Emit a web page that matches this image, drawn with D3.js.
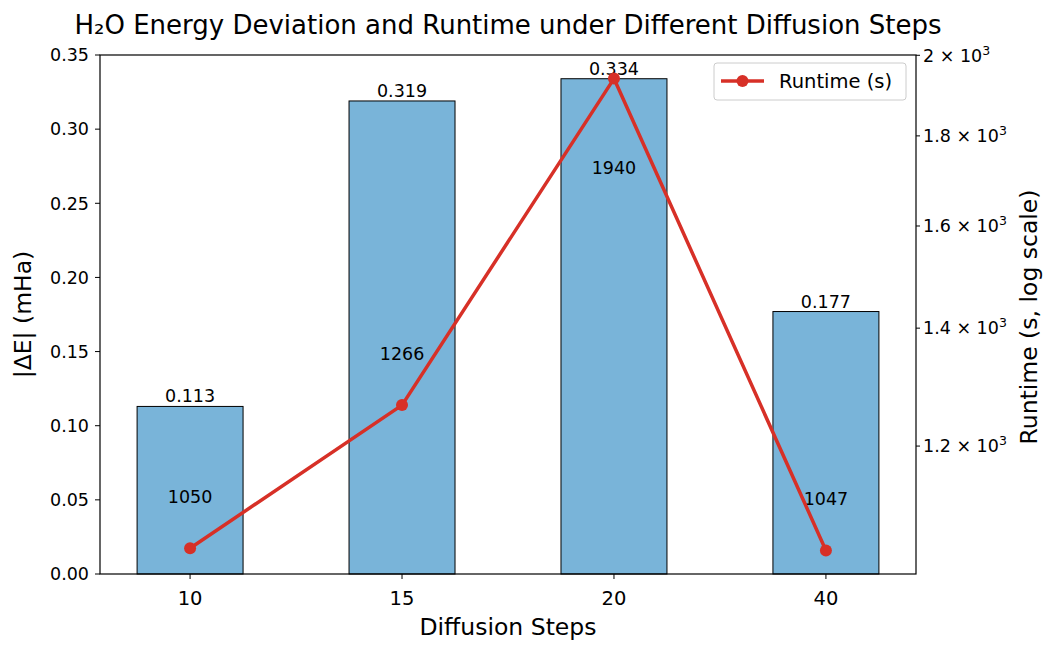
<!DOCTYPE html>
<html><head><meta charset="utf-8">
<script src="https://cdn.jsdelivr.net/npm/d3@7"></script>
<style>
body{margin:0;background:#fff;}
svg{display:block;font-family:"DejaVu Sans",sans-serif;}
</style></head>
<body><svg id="c" width="1056" height="656"></svg>
<script>
const categories = ["10", "15", "20", "40"];
const deltaE = [0.113, 0.319, 0.334, 0.177];
const runtime = [1050, 1266, 1940, 1047];
const deltaLabels = ["0.113", "0.319", "0.334", "0.177"];
const runtimeLabels = ["1050", "1266", "1940", "1047"];
const leftTicks = [0, 0.05, 0.10, 0.15, 0.20, 0.25, 0.30, 0.35];
const rightTicks = [1200, 1400, 1600, 1800, 2000];
const rightTickMantissa = ["1.2", "1.4", "1.6", "1.8", "2"];

const svg = d3.select("#c");
const L = 100, R = 916, T = 55, B = 574;
const barColor = "#79b4d9", lineColor = "#d73027";

const x = d3.scaleLinear().domain([-0.425, categories.length - 1 + 0.425]).range([L, R]);
const yL = d3.scaleLinear().domain([0, 0.35]).range([B, T]);
const lmin = Math.log10(d3.min(runtime)), lmax = Math.log10(d3.max(runtime));
const pad = 0.05 * (lmax - lmin);
const yR = d3.scaleLog().domain([Math.pow(10, lmin - pad), Math.pow(10, lmax + pad)]).range([B, T]);

// bars
svg.selectAll("rect.bar").data(deltaE).join("rect")
  .attr("x", (d, i) => x(i - 0.25)).attr("width", x(0.5) - x(0))
  .attr("y", d => yL(d)).attr("height", d => yL(0) - yL(d))
  .attr("fill", barColor).attr("stroke", "#000").attr("stroke-width", 1);

// bar labels
svg.selectAll("text.bl").data(deltaE).join("text")
  .attr("x", (d, i) => x(i)).attr("y", d => yL(d) - 4)
  .attr("text-anchor", "middle").attr("font-size", 17.5).attr("fill", "#000")
  .text((d, i) => deltaLabels[i]);

// runtime labels
svg.selectAll("text.rl").data(runtime).join("text")
  .attr("x", (d, i) => x(i))
  .attr("y", d => { const v = d * 1.07 > yR.domain()[1] ? d * 0.89 : d * 1.07; return yR(v) + 6.5; })
  .attr("text-anchor", "middle").attr("font-size", 17.5).attr("fill", "#000")
  .text((d, i) => runtimeLabels[i]);

// line
svg.append("path").datum(runtime)
  .attr("d", d3.line().x((d, i) => x(i)).y(d => yR(d)))
  .attr("fill", "none").attr("stroke", lineColor).attr("stroke-width", 3.5).attr("stroke-linejoin", "round");
svg.selectAll("circle.pt").data(runtime).join("circle")
  .attr("cx", (d, i) => x(i)).attr("cy", d => yR(d)).attr("r", 6).attr("fill", lineColor);

// frame
svg.append("rect").attr("x", L).attr("y", T).attr("width", R - L).attr("height", B - T)
  .attr("fill", "none").attr("stroke", "#000").attr("stroke-width", 1.2);

// left axis
const gl = svg.append("g");
leftTicks.forEach(t => {
  gl.append("line").attr("x1", L - 5).attr("x2", L).attr("y1", yL(t)).attr("y2", yL(t)).attr("stroke", "#000");
  gl.append("text").attr("x", L - 11).attr("y", yL(t) + 6.3).attr("text-anchor", "end")
    .attr("font-size", 17.5).text(d3.format(".2f")(t));
});
// x axis
categories.forEach((c, i) => {
  svg.append("line").attr("x1", x(i)).attr("x2", x(i)).attr("y1", B).attr("y2", B + 5).attr("stroke", "#000");
  svg.append("text").attr("x", x(i)).attr("y", 605).attr("text-anchor", "middle")
    .attr("font-size", 19.5).text(c);
});
// right axis
rightTicks.forEach((t, i) => {
  svg.append("line").attr("x1", R).attr("x2", R + 4).attr("y1", yR(t)).attr("y2", yR(t)).attr("stroke", "#000");
  const tx = svg.append("text").attr("x", R + 7).attr("y", yR(t) + 6.3).attr("font-size", 17.5);
  tx.append("tspan").text(rightTickMantissa[i] + " \u00d7 10");
  tx.append("tspan").attr("font-size", 12.5).attr("dy", -7).text("3");
});

// axis titles
svg.append("text").attr("transform", `translate(31,${(T + B) / 2}) rotate(-90)`)
  .attr("text-anchor", "middle").attr("font-size", 23.5).text("|\u0394E| (mHa)");
svg.append("text").attr("transform", `translate(1037,317) rotate(-90)`)
  .attr("text-anchor", "middle").attr("font-size", 23.5).text("Runtime (s, log scale)");
svg.append("text").attr("x", (L + R) / 2).attr("y", 635).attr("text-anchor", "middle")
  .attr("font-size", 23.5).text("Diffusion Steps");
svg.append("text").attr("x", (L + R) / 2).attr("y", 34).attr("text-anchor", "middle")
  .attr("font-size", 26).text("H\u2082O Energy Deviation and Runtime under Different Diffusion Steps");

// legend
const lg = svg.append("g");
lg.append("rect").attr("x", 714).attr("y", 63).attr("width", 192).attr("height", 37).attr("rx", 3)
  .attr("fill", "#fff").attr("fill-opacity", 0.8).attr("stroke", "#ccc");
lg.append("line").attr("x1", 721).attr("x2", 764).attr("y1", 81).attr("y2", 81)
  .attr("stroke", lineColor).attr("stroke-width", 3.5);
lg.append("circle").attr("cx", 742.5).attr("cy", 81).attr("r", 6).attr("fill", lineColor);
lg.append("text").attr("x", 779).attr("y", 88).attr("font-size", 19.5).text("Runtime (s)");
</script></body></html>
